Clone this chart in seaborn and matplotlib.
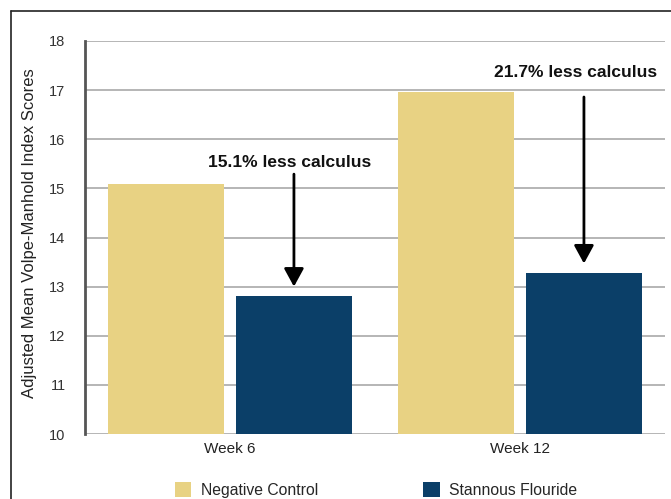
import matplotlib
matplotlib.use("Agg")
import matplotlib.pyplot as plt
import seaborn as sns
import pandas as pd
from matplotlib.lines import Line2D

# Adjusted mean calculus scores per visit
weeks = ["Week 6", "Week 12"]
treatments = ["Negative Control", "Stannous Flouride"]
negative_control = [15.08, 16.96]
stannous_fluoride = [12.80, 13.27]
reduction_labels = ["15.1% less calculus", "21.7% less calculus"]
y_ticks = [10, 11, 12, 13, 14, 15, 16, 17, 18]

df = pd.DataFrame({
    "week": weeks * 2,
    "treatment": [treatments[0]] * len(weeks) + [treatments[1]] * len(weeks),
    "score": negative_control + stannous_fluoride,
})

sns.set_theme(style="white")
plt.rcParams["font.family"] = ["Liberation Sans", "DejaVu Sans"]

palette = {"Negative Control": "#E8D283", "Stannous Flouride": "#0B3F68"}

fig = plt.figure(figsize=(6.71, 4.99), dpi=100)
fig.patch.set_facecolor("white")
ax = fig.add_axes([85 / 671, 1 - 434 / 499, 580 / 671, 393 / 499])

sns.barplot(data=df, x="week", y="score", hue="treatment", order=weeks,
            hue_order=treatments, palette=palette, width=0.88, gap=0.093,
            saturation=1, linewidth=0, ax=ax, legend=True)

ax.set_ylim(10, 18)
ax.set_xlim(-0.5, 1.5)
ax.set_yticks(y_ticks)
ax.yaxis.grid(True, color="#B5B5B5", linewidth=1.4)
ax.set_axisbelow(True)
for side in ["top", "right", "bottom"]:
    ax.spines[side].set_visible(False)
ax.spines["left"].set_color("#555555")
ax.spines["left"].set_linewidth(2)

ax.tick_params(axis="y", length=0, pad=14, labelsize=10.5, labelcolor="#333333")
ax.tick_params(axis="x", length=0, pad=6, labelsize=11, labelcolor="#222222")
ax.set_xlabel("")
ax.set_ylabel("Adjusted Mean Volpe-Manhold Index Scores", fontsize=12, color="#222222")
ax.yaxis.set_label_coords(-0.083, 0.512)

# Reduction call-outs with arrows pointing at the stannous fluoride bars
bar_offset = 0.2205
text_x = [0.207, 1.190]
text_y = [15.52, 17.35]
arrow_start = [15.29, 16.86]
for i, (label, sf) in enumerate(zip(reduction_labels, stannous_fluoride)):
    x = i + bar_offset
    ax.text(text_x[i], text_y[i], label, ha="center", va="center", fontsize=12.5,
            fontweight="bold", color="#111111")
    ax.annotate("", xy=(x, sf + 0.2), xytext=(x, arrow_start[i]),
                arrowprops=dict(arrowstyle="-|>,head_length=0.55,head_width=0.3",
                                color="black", lw=2, mutation_scale=20,
                                shrinkA=0, shrinkB=0))

# Legend along the bottom
handles, labels = ax.get_legend_handles_labels()
ax.legend_.remove()
fig.legend(handles, labels, loc="center", bbox_to_anchor=(376 / 671, 1 - 490 / 499),
           ncol=2, frameon=False, fontsize=11.3, handlelength=1.05, handleheight=1.05,
           handletextpad=0.6, columnspacing=6.7)

# Frame lines along the top and left of the figure
fig.add_artist(Line2D([11 / 671, 1.0], [1 - 11 / 499, 1 - 11 / 499],
                      transform=fig.transFigure, color="#222222", linewidth=1.2))
fig.add_artist(Line2D([11 / 671, 11 / 671], [1 - 11 / 499, 0.0],
                      transform=fig.transFigure, color="#222222", linewidth=1.2))

fig.savefig("out.png", dpi=100)
